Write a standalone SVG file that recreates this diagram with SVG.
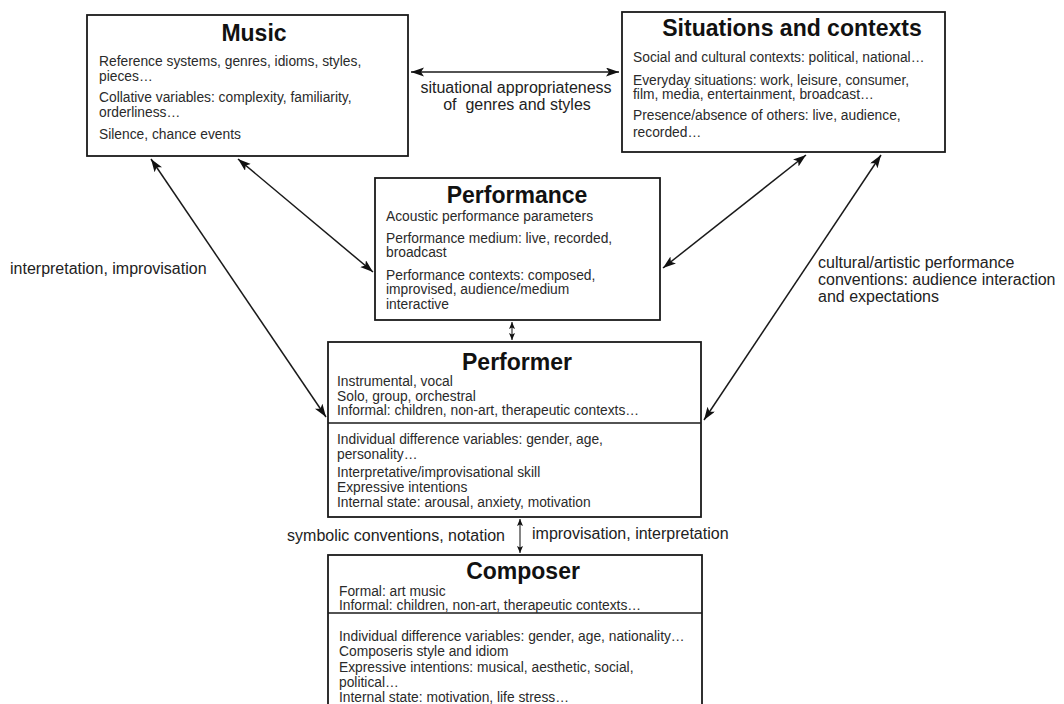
<svg xmlns="http://www.w3.org/2000/svg" width="1064" height="704" viewBox="0 0 1064 704">
<style>
.box{fill:#fff;stroke:#1a1a1a;stroke-width:1.8}
.div{stroke:#1a1a1a;stroke-width:1.6}
.title{font-family:"Liberation Sans",Arial,sans-serif;font-weight:bold;font-size:23px;fill:#111;text-anchor:middle}
.body{font-family:"Liberation Sans",Arial,sans-serif;font-size:13.8px;fill:#2a2a2a}
.lbl{font-family:"Liberation Sans",Arial,sans-serif;font-size:16px;fill:#222}
.conn{stroke:#1a1a1a;stroke-width:1.5;fill:none}
.conn2{stroke:#333;stroke-width:1.2;fill:none}
</style>
<defs>
<marker id="ah" markerUnits="userSpaceOnUse" markerWidth="14" markerHeight="10" refX="13" refY="4.5" orient="auto-start-reverse">
<path d="M0,0 L13,4.5 L0,9 L3,4.5 z" fill="#111"/>
</marker>
<marker id="ahs" markerUnits="userSpaceOnUse" markerWidth="8" markerHeight="7" refX="7" refY="3" orient="auto-start-reverse">
<path d="M0,0 L7,3 L0,6 L1.5,3 z" fill="#111"/>
</marker>
</defs>
<rect width="1064" height="704" fill="#fff"/>

<g id="connectors">
<line class="conn" x1="411" y1="72" x2="619" y2="72" marker-start="url(#ah)" marker-end="url(#ah)"/>
<line class="conn" x1="151" y1="159" x2="326" y2="417" marker-start="url(#ah)" marker-end="url(#ah)"/>
<line class="conn" x1="238" y1="159" x2="373" y2="272" marker-start="url(#ah)" marker-end="url(#ah)"/>
<line class="conn" x1="806" y1="155" x2="663" y2="268" marker-start="url(#ah)" marker-end="url(#ah)"/>
<line class="conn" x1="881" y1="155" x2="704" y2="420" marker-start="url(#ah)" marker-end="url(#ah)"/>
<line class="conn2" x1="512" y1="322" x2="512" y2="340" marker-start="url(#ahs)" marker-end="url(#ahs)"/>
<line class="conn2" x1="520" y1="519" x2="520" y2="553" marker-start="url(#ahs)" marker-end="url(#ahs)"/>
<text class="lbl" x="516" y="93" text-anchor="middle">situational appropriateness</text>
<text class="lbl" x="517" y="110" text-anchor="middle" style="white-space:pre">of  genres and styles</text>
<text class="lbl" x="10" y="274">interpretation, improvisation</text>
<text class="lbl" x="818" y="268">cultural/artistic performance</text>
<text class="lbl" x="818" y="285">conventions: audience interaction</text>
<text class="lbl" x="818" y="302">and expectations</text>
<text class="lbl" x="505" y="541" text-anchor="end">symbolic conventions, notation</text>
<text class="lbl" x="532" y="539">improvisation, interpretation</text>
</g>

<g id="music">
<rect class="box" x="87" y="15" width="321" height="141"/>
<text class="title" x="254" y="41">Music</text>
<text class="body" x="99" y="66">Reference systems, genres, idioms, styles,</text>
<text class="body" x="99" y="81">pieces…</text>
<text class="body" x="99" y="102">Collative variables: complexity, familiarity,</text>
<text class="body" x="99" y="117">orderliness…</text>
<text class="body" x="99" y="139">Silence, chance events</text>
</g>

<g id="situations">
<rect class="box" x="622" y="12" width="323" height="140"/>
<text class="title" x="792" y="36">Situations and contexts</text>
<text class="body" x="633" y="62">Social and cultural contexts: political, national…</text>
<text class="body" x="633" y="85">Everyday situations: work, leisure, consumer,</text>
<text class="body" x="633" y="99">film, media, entertainment, broadcast…</text>
<text class="body" x="633" y="120">Presence/absence of others: live, audience,</text>
<text class="body" x="633" y="137">recorded…</text>
</g>

<g id="performance">
<rect class="box" x="375" y="178" width="285" height="142"/>
<text class="title" x="517" y="203">Performance</text>
<text class="body" x="386" y="221">Acoustic performance parameters</text>
<text class="body" x="386" y="243">Performance medium: live, recorded,</text>
<text class="body" x="386" y="257">broadcast</text>
<text class="body" x="386" y="280">Performance contexts: composed,</text>
<text class="body" x="386" y="294">improvised, audience/medium</text>
<text class="body" x="386" y="309">interactive</text>
</g>

<g id="performer">
<rect class="box" x="328" y="342" width="373" height="175"/>
<line class="div" x1="328" y1="423" x2="701" y2="423"/>
<text class="title" x="517" y="370">Performer</text>
<text class="body" x="337" y="386">Instrumental, vocal</text>
<text class="body" x="337" y="401">Solo, group, orchestral</text>
<text class="body" x="337" y="415">Informal: children, non-art, therapeutic contexts…</text>
<text class="body" x="337" y="444">Individual difference variables: gender, age,</text>
<text class="body" x="337" y="459">personality…</text>
<text class="body" x="337" y="477">Interpretative/improvisational skill</text>
<text class="body" x="337" y="492">Expressive intentions</text>
<text class="body" x="337" y="507">Internal state: arousal, anxiety, motivation</text>
</g>

<g id="composer">
<rect class="box" x="328" y="555" width="374" height="170"/>
<line class="div" x1="328" y1="613" x2="702" y2="613"/>
<text class="title" x="523" y="579">Composer</text>
<text class="body" x="339" y="596">Formal: art music</text>
<text class="body" x="339" y="610">Informal: children, non-art, therapeutic contexts…</text>
<text class="body" x="339" y="641">Individual difference variables: gender, age, nationality…</text>
<text class="body" x="339" y="656">Composeris style and idiom</text>
<text class="body" x="339" y="672">Expressive intentions: musical, aesthetic, social,</text>
<text class="body" x="339" y="687">political…</text>
<text class="body" x="339" y="702">Internal state: motivation, life stress…</text>
</g>
</svg>
